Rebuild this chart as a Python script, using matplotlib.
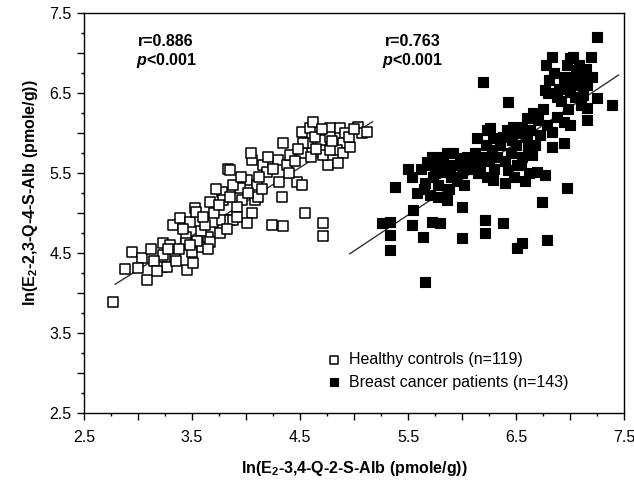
import matplotlib
matplotlib.use("Agg")
import matplotlib.pyplot as plt
from matplotlib.ticker import MultipleLocator, FuncFormatter

plt.rcParams['font.family'] = ['Liberation Sans', 'DejaVu Sans']
plt.rcParams['mathtext.fontset'] = 'custom'
plt.rcParams['mathtext.rm'] = 'Liberation Sans'
plt.rcParams['mathtext.bf'] = 'Liberation Sans:bold'
plt.rcParams['mathtext.it'] = 'Liberation Sans:italic:bold'

# ---- Healthy controls (open squares) ----
healthy_x = [2.77, 2.94, 3.04, 3.00, 3.08, 2.88,
             3.23, 3.23, 3.22, 3.27, 3.34, 3.32, 3.39, 3.48, 3.53, 3.54, 3.44, 3.44, 3.45, 3.51,
             3.50, 3.59, 3.65, 3.67, 3.67, 3.78, 3.79, 3.69, 3.78, 3.76, 3.83, 3.85,
             3.30, 3.38, 3.42, 3.58, 3.62, 3.55, 3.35, 3.15, 3.12, 3.18,
             3.85, 4.06, 4.16, 4.19, 4.30, 4.38, 4.34, 4.41, 4.31, 4.47, 4.52, 4.33, 4.01, 3.94,
             4.10, 4.08, 3.96, 3.92, 4.06, 4.01, 3.88, 3.85, 4.11,
             4.24, 4.34, 4.55, 4.71, 4.71,
             4.52, 4.59, 4.62, 4.57, 4.69, 4.78, 4.78, 4.87, 4.92, 5.04, 5.07, 5.12, 4.90, 4.84,
             4.90, 4.76, 4.85, 4.96, 4.52, 4.71, 4.78, 4.53, 4.64,
             3.70, 3.72, 3.88, 3.95, 4.02, 4.12, 4.15, 4.20, 4.25, 4.40, 4.45, 4.48, 4.60, 4.65,
             4.80, 4.95, 5.00, 4.70, 3.60, 3.75, 3.82, 3.92, 3.28, 3.48, 3.65, 4.05]
healthy_y = [3.89, 4.51, 4.44, 4.31, 4.16, 4.30,
             4.62, 4.47, 4.32, 4.32, 4.45, 4.85, 4.94, 4.89, 5.06, 5.01, 4.70, 4.62, 4.29, 4.37,
             4.51, 4.57, 4.70, 4.64, 5.14, 5.26, 5.16, 4.89, 4.91, 4.75, 5.55, 4.91,
             4.60, 4.55, 4.80, 4.78, 4.85, 4.65, 4.40, 4.40, 4.55, 4.28,
             5.54, 5.66, 5.60, 5.51, 5.66, 5.60, 5.88, 5.73, 5.39, 5.39, 5.35, 5.20, 5.41, 5.31,
             5.35, 5.16, 5.16, 5.08, 5.00, 4.88, 4.91, 5.20, 5.20,
             4.85, 4.84, 5.00, 4.875, 4.71,
             6.01, 6.06, 6.14, 5.88, 5.91, 6.06, 5.95, 6.06, 6.00, 6.08, 6.00, 6.01, 5.88, 5.79,
             5.75, 5.60, 5.63, 5.83, 5.75, 5.73, 5.79, 5.88, 5.95,
             5.00, 5.30, 5.35, 5.45, 5.25, 5.45, 5.30, 5.70, 5.55, 5.50, 5.65, 5.80, 5.70, 5.80,
             5.90, 5.95, 6.05, 6.05, 4.95, 5.10, 4.80, 4.95, 4.55, 4.60, 4.55, 5.75]

# ---- Breast cancer patients (filled squares) ----
cancer_x = [6.19, 6.14, 6.23, 5.86, 5.92, 5.98, 5.80, 5.68, 6.05, 6.10, 6.15, 5.89, 5.82, 5.73,
            5.66, 5.54, 5.38, 5.58, 5.70, 5.78, 5.86, 6.00, 5.55, 5.26, 5.33, 5.54, 5.33, 5.72,
            5.80, 5.64, 6.00, 5.33, 5.66, 6.21, 6.21, 6.23,
            7.25, 6.83, 7.00, 7.19, 6.97, 7.06, 7.12, 6.81, 6.94, 7.06, 7.16, 6.77, 6.88, 7.00,
            7.12, 7.25, 7.39, 7.16, 7.16, 6.43, 6.66, 6.70, 6.60, 6.47, 6.26, 6.29, 6.42, 6.56,
            6.79, 6.94, 6.83, 6.94, 6.83, 6.72, 6.63, 6.46, 6.28, 6.19, 6.17, 6.61, 6.65, 6.56,
            6.51, 6.43, 6.40, 6.29, 6.69, 6.77, 6.97, 6.74, 6.38, 6.51, 6.56, 6.79,
            5.62, 5.70, 5.75, 5.85, 5.90, 5.95, 6.00, 6.05, 6.10, 5.78, 5.88, 5.95, 6.02, 5.65,
            5.72, 5.82, 6.12, 5.50,
            6.25, 6.32, 6.35, 6.38, 6.45, 6.50, 6.52, 6.55, 6.60, 6.62, 6.68, 6.30, 6.40, 6.22,
            6.58, 6.48,
            6.85, 6.90, 6.95, 7.02, 7.05, 7.08, 7.10, 7.15, 6.92, 6.98, 7.20, 6.80, 7.00, 6.88,
            6.75, 7.03, 6.78]
cancer_y = [6.64, 5.94, 6.04, 5.75, 5.75, 5.69, 5.63, 5.64, 5.58, 5.66, 5.50, 5.54, 5.51, 5.45,
            5.375, 5.45, 5.325, 5.25, 5.225, 5.20, 5.16, 5.075, 5.04, 4.875, 4.89, 4.85, 4.725, 4.89,
            4.875, 4.70, 4.69, 4.54, 4.14, 4.91, 4.75, 5.45,
            7.20, 6.95, 6.94, 6.95, 6.85, 6.79, 6.72, 6.66, 6.625, 6.60, 6.60, 6.54, 6.45, 6.51,
            6.475, 6.44, 6.35, 6.31, 6.16, 6.39, 6.25, 6.16, 6.19, 6.075, 6.06, 5.94, 6.04, 6.075,
            6.10, 6.14, 6.01, 5.875, 5.83, 5.975, 6.04, 5.91, 5.79, 5.70, 5.575, 5.825, 5.725, 5.70,
            5.60, 5.54, 5.375, 5.41, 5.51, 5.475, 5.31, 5.14, 4.875, 4.56, 4.625, 4.66,
            5.55, 5.60, 5.50, 5.60, 5.45, 5.60, 5.50, 5.70, 5.55, 5.35, 5.30, 5.40, 5.35, 5.30,
            5.70, 5.70, 5.75, 5.55,
            5.65, 5.70, 5.85, 5.95, 5.75, 5.85, 6.00, 5.60, 5.95, 5.50, 5.85, 5.55, 5.65, 5.85,
            5.40, 5.45,
            6.75, 6.55, 6.70, 6.65, 6.45, 6.85, 6.35, 6.80, 6.40, 6.30, 6.70, 6.50, 6.10, 6.20,
            6.30, 6.95, 6.85]

# regression line end points
healthy_line_x = [2.79, 5.17]
healthy_line_y = [4.11, 6.14]
cancer_line_x = [4.96, 7.45]
cancer_line_y = [4.49, 6.725]

fig = plt.figure(figsize=(6.34, 4.83), dpi=100)
ax = fig.add_axes([84/634, 1-413/483, 540/634, 400/483])

ax.plot(healthy_line_x, healthy_line_y, color='#333333', lw=1.0, zorder=1)
ax.plot(cancer_line_x, cancer_line_y, color='#333333', lw=1.0, zorder=1)

ax.scatter(healthy_x, healthy_y, s=52, marker='s', facecolors='white',
           edgecolors='black', linewidths=1.1, zorder=2,
           label='Healthy controls (n=119)')
ax.scatter(cancer_x, cancer_y, s=62, marker='s', facecolors='black',
           edgecolors='black', linewidths=0.8, zorder=3,
           label='Breast cancer patients (n=143)')

ax.set_xlim(2.5, 7.5)
ax.set_ylim(2.5, 7.5)

def fmt(v, pos):
    r = (v - 2.5) % 1.0
    if r < 1e-6 or abs(r - 1.0) < 1e-6:
        return f"{v:.1f}"
    return ""

for axis in (ax.xaxis, ax.yaxis):
    axis.set_major_locator(MultipleLocator(0.5))
    axis.set_minor_locator(MultipleLocator(0.25))
    axis.set_major_formatter(FuncFormatter(fmt))

ax.tick_params(which='major', direction='out', length=5, width=1.0, labelsize=11.5,
               top=False, right=False)
ax.tick_params(which='minor', direction='out', length=2.5, width=1.0,
               top=False, right=False)
ax.tick_params(axis='x', which='major', pad=7)
ax.tick_params(axis='y', which='major', pad=4)
for sp in ax.spines.values():
    sp.set_linewidth(1.0)

ax.set_xlabel(r'ln(E$_\mathbf{2}$-3,4-Q-2-S-Alb (pmole/g))', fontsize=11.5,
              fontweight='bold')
ax.xaxis.set_label_coords(0.5, -0.115)
ax.set_ylabel(r'ln(E$_\mathbf{2}$-2,3-Q-4-S-Alb (pmole/g))', fontsize=11.5,
              fontweight='bold')
ax.yaxis.set_label_coords(-0.082, 0.55)

ax.text(0.152, 0.93, 'r=0.886', transform=ax.transAxes, ha='center', va='center',
        fontsize=11.5, fontweight='bold')
ax.text(0.152, 0.88, r'$\mathit{p}$<0.001', transform=ax.transAxes, ha='center', va='center',
        fontsize=11.5, fontweight='bold')
ax.text(0.609, 0.93, 'r=0.763', transform=ax.transAxes, ha='center', va='center',
        fontsize=11.5, fontweight='bold')
ax.text(0.609, 0.88, r'$\mathit{p}$<0.001', transform=ax.transAxes, ha='center', va='center',
        fontsize=11.5, fontweight='bold')

leg = ax.legend(loc='center left', bbox_to_anchor=(0.44, 0.105), frameon=False,
                fontsize=11.5, handlelength=0.7, handletextpad=0.6, markerscale=0.7,
                labelspacing=0.45, borderaxespad=0)

fig.savefig('out.png', dpi=100)
